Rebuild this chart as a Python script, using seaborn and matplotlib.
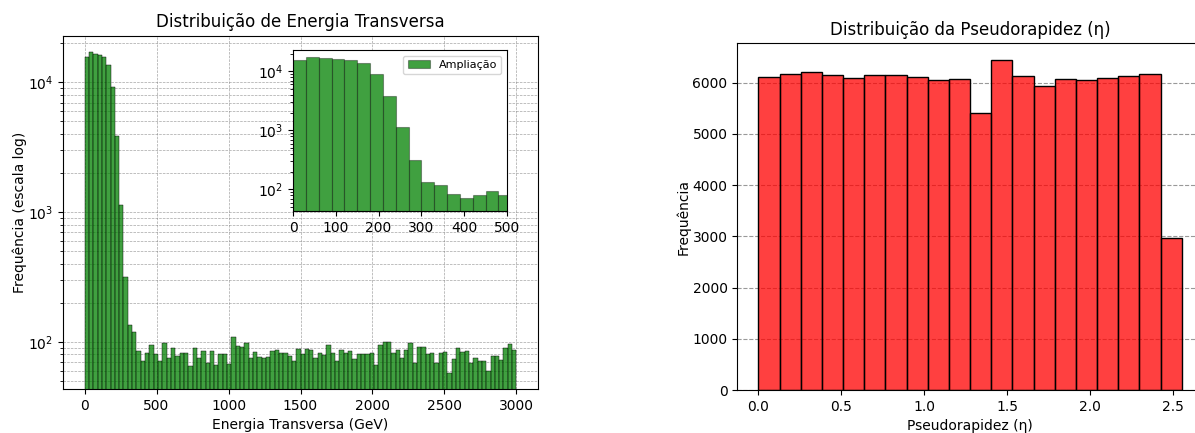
import numpy as np
import pandas as pd
import matplotlib
matplotlib.use("Agg")
import matplotlib.pyplot as plt
import seaborn as sns

# ---------------- data ----------------
# Transverse energy histogram: 100 bins of 30 GeV from 0 to 3000 GeV
et_bin_min, et_bin_max, et_nbins = 0, 3000, 100
et_counts = [
    15740, 17300, 16700, 16400, 15760, 13660, 9170, 3870, 1131, 318,
    135, 119, 85, 71, 82, 94, 80, 71, 97.6, 75.2,
    89.3, 77.9, 81.7, 81.2, 65.5, 89.3, 75.2, 84.6, 69.2, 84.6,
    66.7, 79.8, 79.8, 67.5, 109.3, 93.1, 91.5, 97.6, 74.7, 83.1,
    76.1, 75.2, 76.1, 85.2, 86.2, 81.2, 81.2, 77.9, 70.8, 87.7,
    80.2, 87.7, 86.2, 74.7, 81.7, 78.8, 93.7, 82.6, 70.8, 85.7,
    82.6, 84.6, 73.4, 80.2, 79.8, 79.8, 81.2, 66.7, 94.8, 99.4,
    100, 81.7, 86.2, 75.2, 85.7, 97.6, 68.8, 90.4, 90.4, 80.7,
    81.2, 69.2, 82.6, 83.1, 57.5, 73.4, 89.3, 83.1, 85.2, 69.2,
    75.2, 70.8, 70.8, 59.2, 77.9, 77.9, 72.1, 89.3, 95.9, 86.2,
]

# Pseudorapidity histogram: 20 bins from 0 to ~2.554
eta_bin_min, eta_bin_max, eta_nbins = 0.0, 2.554, 20
eta_counts = [
    6100, 6157, 6196, 6138, 6092, 6144, 6138, 6112, 6047, 6066,
    5403, 6443, 6131, 5936, 6066, 6047, 6086, 6125, 6164, 2965,
]

et_edges = np.linspace(et_bin_min, et_bin_max, et_nbins + 1)
et_centers = (et_edges[:-1] + et_edges[1:]) / 2
eta_edges = np.linspace(eta_bin_min, eta_bin_max, eta_nbins + 1)
eta_centers = (eta_edges[:-1] + eta_edges[1:]) / 2

df_et = pd.DataFrame({"et": et_centers, "n": et_counts})
df_eta = pd.DataFrame({"eta": eta_centers, "n": eta_counts})

# ---------------- figure ----------------
W, H = 1195, 433
fig = plt.figure(figsize=(W / 100, H / 100), dpi=100)

def px_axes(left, top, right, bottom):
    return fig.add_axes([left / W, (H - bottom) / H, (right - left) / W, (bottom - top) / H])

ax1 = px_axes(63, 35.5, 538, 389)
ax2 = px_axes(737.3, 43.3, 1203, 390)
axin = px_axes(293, 50, 507, 211)

# Left: transverse energy (log)
sns.histplot(data=df_et, x="et", weights="n", bins=et_nbins,
             binrange=(et_bin_min, et_bin_max), color="green",
             edgecolor="black", ax=ax1)
ax1.set_yscale("log")
ax1.set_title("Distribuição de Energia Transversa", fontsize=12)
ax1.set_xlabel("Energia Transversa (GeV)")
ax1.set_ylabel("Frequência (escala log)", labelpad=1)
ax1.grid(True, which="both", linestyle="--", linewidth=0.5, color="gray", alpha=0.7)
ax1.set_axisbelow(True)

# Inset zoom
sns.histplot(data=df_et, x="et", weights="n", bins=et_nbins,
             binrange=(et_bin_min, et_bin_max), color="green",
             edgecolor=(0, 0, 0, 0.35), linewidth=0.8, ax=axin, label="Ampliação")
axin.set_yscale("log")
axin.set_xlim(0, 500)
axin.set_xlabel("")
axin.set_ylabel("")
axin.set_xticks([0, 100, 200, 300, 400, 500])
axin.legend(loc="upper right", fontsize=8)

# Right: pseudorapidity
sns.histplot(data=df_eta, x="eta", weights="n", bins=eta_nbins,
             binrange=(eta_bin_min, eta_bin_max), color="red",
             edgecolor="black", ax=ax2)
ax2.set_title("Distribuição da Pseudorapidez (η)", fontsize=12)
ax2.set_xlabel("Pseudorapidez (η)")
ax2.set_ylabel("Frequência", labelpad=1)
ax2.grid(True, axis="y", linestyle="--", color="gray", alpha=0.8, linewidth=0.8)
ax2.set_axisbelow(True)

fig.savefig("out.png", dpi=100)
